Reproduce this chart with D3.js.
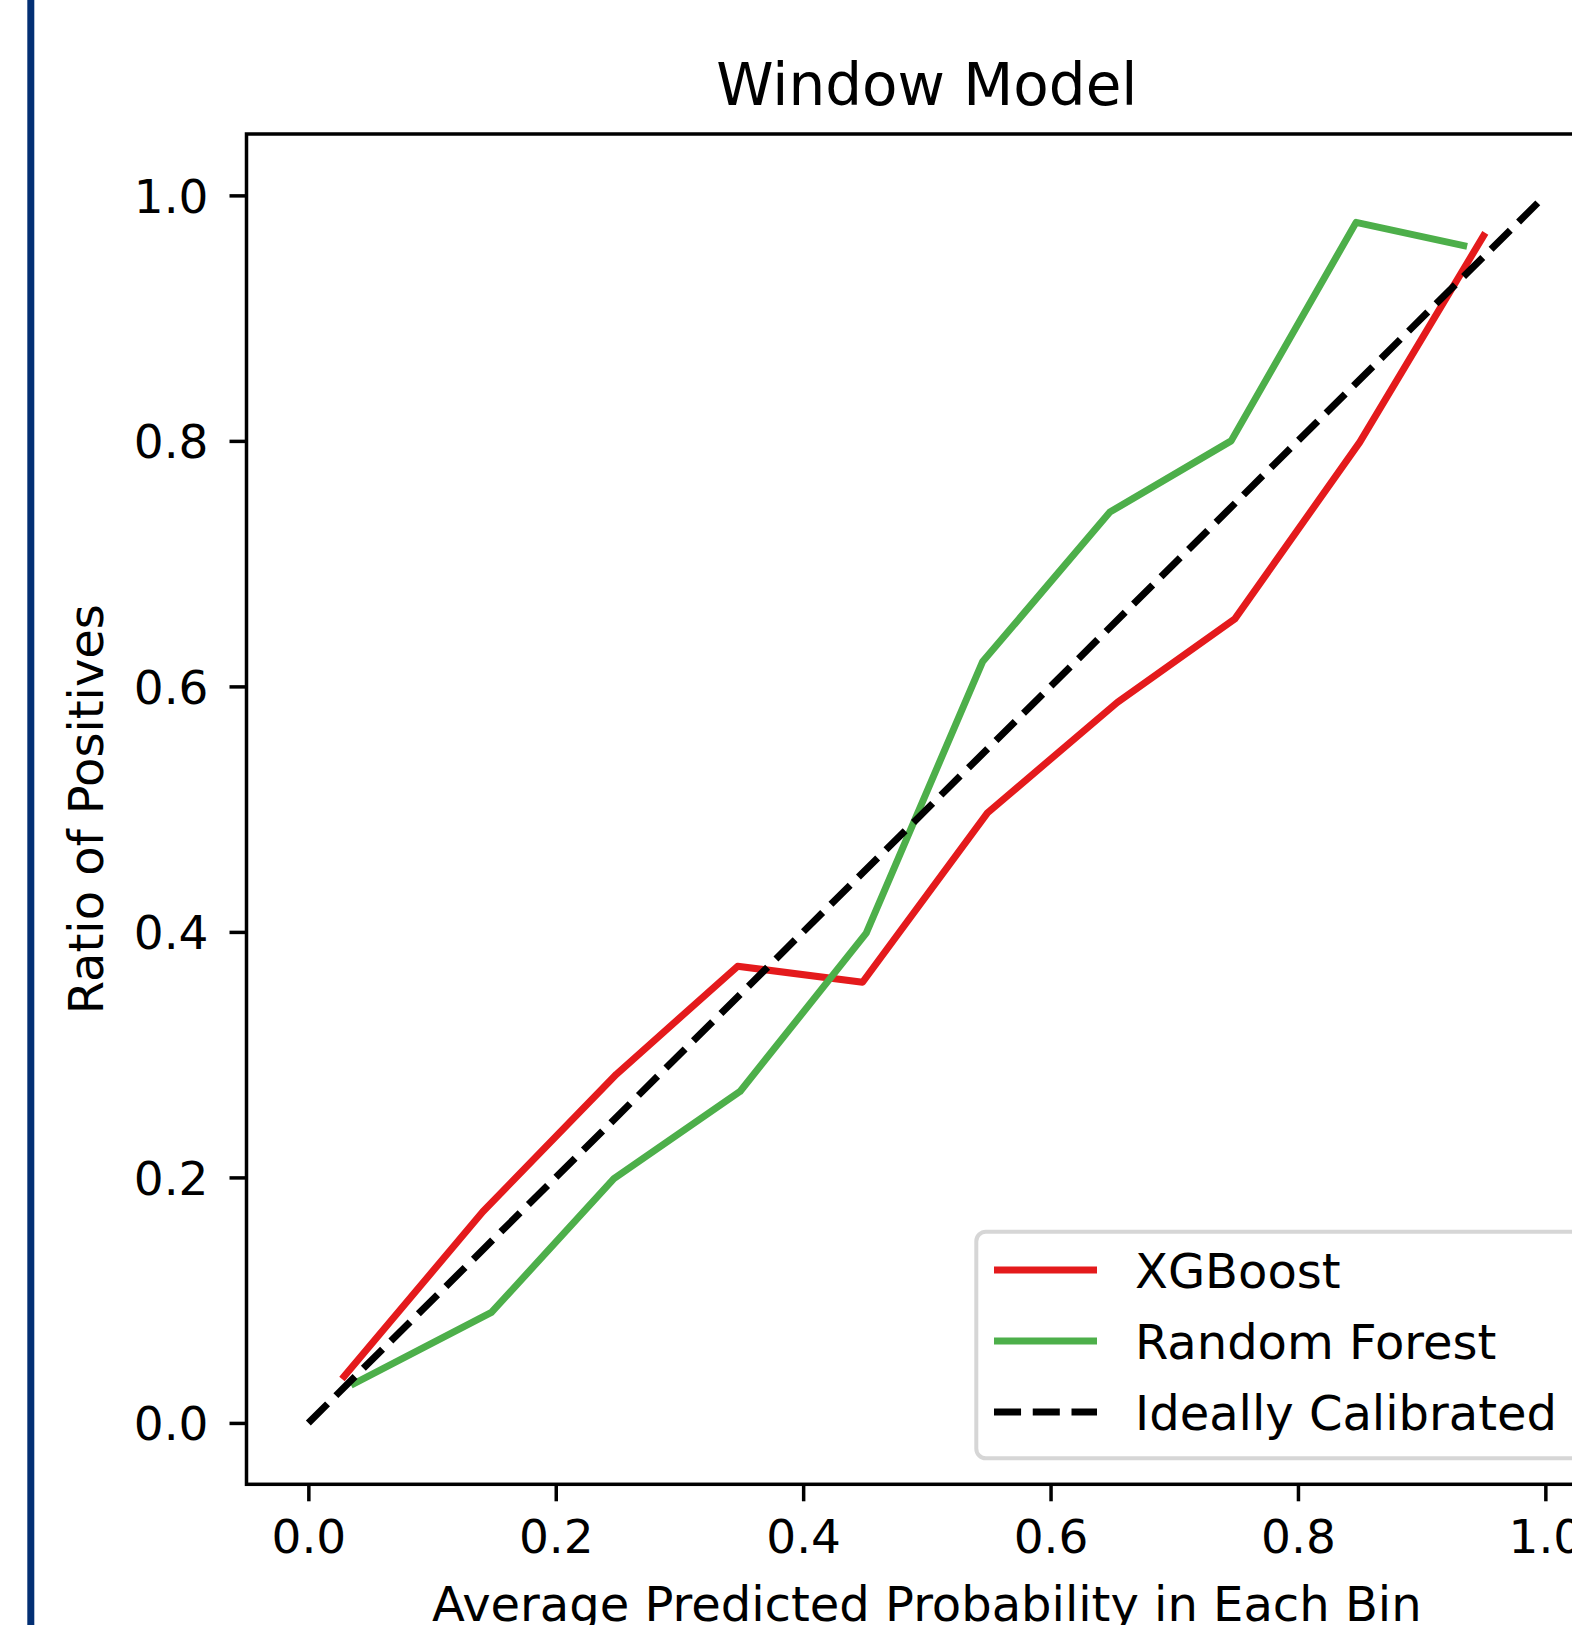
<!DOCTYPE html>
<html>
<head>
<meta charset="utf-8">
<script src="https://cdn.jsdelivr.net/npm/d3@7"></script>
<style>
  html, body { margin: 0; padding: 0; background: #ffffff; }
  svg { display: block; }
  text { font-family: "DejaVu Sans", sans-serif; fill: #000; }
</style>
</head>
<body>
<svg id="chart" width="1572" height="1625"></svg>
<script>
// ---- Data ----
const title = "Window Model";
const xLabel = "Average Predicted Probability in Each Bin";
const yLabel = "Ratio of Positives";
const seriesNames = ["XGBoost", "Random Forest", "Ideally Calibrated"];
const seriesColors = ["#e41a1c", "#4daf4a", "#000000"];

const xgbX = [0.029, 0.141, 0.249, 0.347, 0.448, 0.549, 0.654, 0.749, 0.850, 0.950];
const xgbY = [0.038, 0.172, 0.284, 0.372, 0.359, 0.497, 0.587, 0.655, 0.799, 0.967];

const rfX = [0.037, 0.148, 0.247, 0.349, 0.451, 0.545, 0.648, 0.746, 0.847, 0.934];
const rfY = [0.032, 0.090, 0.199, 0.270, 0.399, 0.620, 0.742, 0.800, 0.978, 0.959];

const idealX = [0, 1];
const idealY = [0, 1];

const xTicks = [0.0, 0.2, 0.4, 0.6, 0.8, 1.0];
const yTicks = [0.0, 0.2, 0.4, 0.6, 0.8, 1.0];

// ---- Layout ----
const svg = d3.select("#chart");
svg.append("rect").attr("x", 0).attr("y", 0).attr("width", 1572).attr("height", 1625).attr("fill", "#fff");

// left navy bar
svg.append("rect").attr("x", 27.3).attr("y", 0).attr("width", 7).attr("height", 1625).attr("fill", "#032f74");

const axL = 246.5, axT = 134, axB = 1484.3;
const unitX = 1237, unitY = 1227.5;
const axR = axL + 1.1 * unitX;

const x = d3.scaleLinear().domain([-0.05, 1.05]).range([axL, axR]);
const y = d3.scaleLinear().domain([-0.05, 1.05]).range([axB, axT]);

const fmt = d3.format(".1f");
const dashPattern = "27.05,11.7";

// x axis
const gx = svg.append("g").attr("transform", `translate(0,${axB})`)
  .call(d3.axisBottom(x).tickValues(xTicks).tickFormat(fmt).tickSize(17).tickPadding(18.5));
gx.select(".domain").remove();
gx.selectAll(".tick line").attr("stroke", "#000").attr("stroke-width", 3.5);
gx.selectAll(".tick text").attr("font-size", 47).attr("font-family", "DejaVu Sans");

// y axis
const gy = svg.append("g").attr("transform", `translate(${axL},0)`)
  .call(d3.axisLeft(y).tickValues(yTicks).tickFormat(fmt).tickSize(17).tickPadding(21));
gy.select(".domain").remove();
gy.selectAll(".tick line").attr("stroke", "#000").attr("stroke-width", 3.5);
gy.selectAll(".tick text").attr("font-size", 47).attr("font-family", "DejaVu Sans").attr("dy", "0.36em");

// lines
const line = d3.line().x(d => x(d[0])).y(d => y(d[1]));
const zip = (a, b) => a.map((v, i) => [v, b[i]]);

svg.append("path").datum(zip(xgbX, xgbY)).attr("d", line)
  .attr("fill", "none").attr("stroke", seriesColors[0]).attr("stroke-width", 7)
  .attr("stroke-linejoin", "round").attr("stroke-linecap", "square");
svg.append("path").datum(zip(rfX, rfY)).attr("d", line)
  .attr("fill", "none").attr("stroke", seriesColors[1]).attr("stroke-width", 7)
  .attr("stroke-linejoin", "round").attr("stroke-linecap", "square");
svg.append("path").datum(zip(idealX, idealY)).attr("d", line)
  .attr("fill", "none").attr("stroke", seriesColors[2]).attr("stroke-width", 7)
  .attr("stroke-dasharray", dashPattern).attr("stroke-linecap", "butt");

// frame
svg.append("rect").attr("x", axL).attr("y", axT).attr("width", axR - axL).attr("height", axB - axT)
  .attr("fill", "none").attr("stroke", "#000").attr("stroke-width", 3.5).attr("stroke-linejoin", "miter");

// title & labels
svg.append("text").attr("x", (axL + axR) / 2).attr("y", 105).attr("text-anchor", "middle")
  .attr("font-size", 58).text(title);
svg.append("text").attr("x", (axL + axR) / 2).attr("y", 1621).attr("text-anchor", "middle")
  .attr("font-size", 48).text(xLabel);
svg.append("text").attr("transform", `translate(103,${(axT + axB) / 2}) rotate(-90)`)
  .attr("text-anchor", "middle").attr("font-size", 48).text(yLabel);

// legend
const lg = svg.append("g");
lg.append("rect").attr("x", 976.3).attr("y", 1231.7).attr("width", 610).attr("height", 1458.3 - 1231.7)
  .attr("rx", 9.6).attr("ry", 9.6)
  .attr("fill", "#ffffff").attr("fill-opacity", 0.8)
  .attr("stroke", "#cccccc").attr("stroke-opacity", 0.8).attr("stroke-width", 4);
const rowsY = [1270, 1341, 1412];
const dashes = [null, null, dashPattern];
seriesNames.forEach((name, i) => {
  const l = lg.append("line").attr("x1", 994).attr("x2", 1097).attr("y1", rowsY[i]).attr("y2", rowsY[i])
    .attr("stroke", seriesColors[i]).attr("stroke-width", 7)
    .attr("stroke-linecap", "butt");
  if (dashes[i]) l.attr("stroke-dasharray", dashes[i]);
  lg.append("text").attr("x", 1135).attr("y", rowsY[i] + 17.5).attr("font-size", 48).text(name);
});
</script>
</body>
</html>
